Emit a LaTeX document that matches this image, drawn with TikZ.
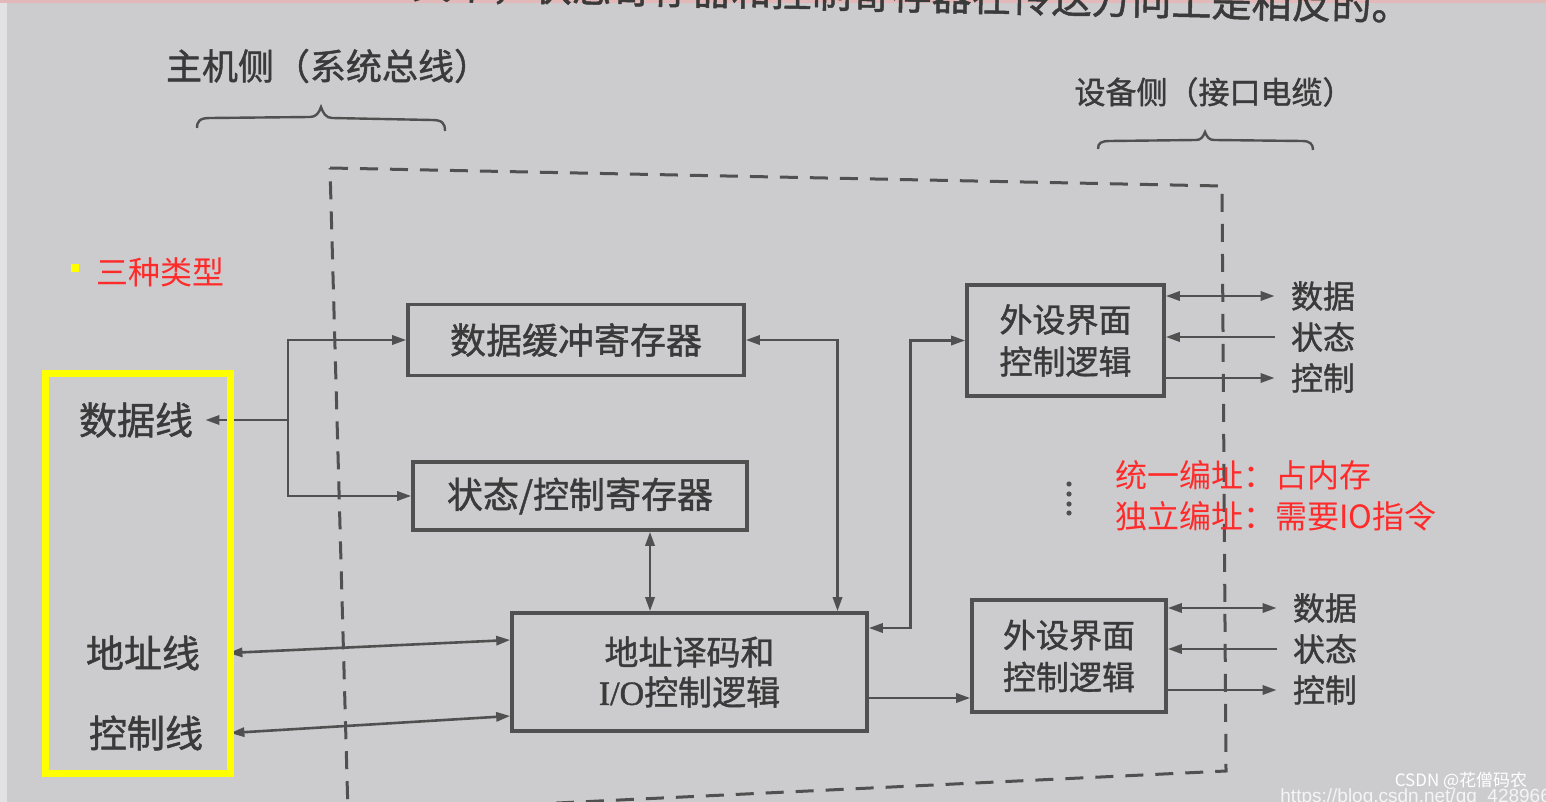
\documentclass[tikz,border=0pt]{standalone}
\usepackage{fontspec}
\setmainfont{Liberation Serif}
\newfontfamily\cjk{Noto Sans CJK SC}
\newfontfamily\cjkp{Noto Sans CJK SC}[FakeBold=1.2]
\newfontfamily\lser{Liberation Serif}[FakeBold=1.2]
\newfontfamily\lsans{Liberation Sans}
\usetikzlibrary{arrows.meta}
\definecolor{bg}{RGB}{204,204,206}
\definecolor{ink}{RGB}{58,58,58}
\definecolor{lnc}{RGB}{80,80,80}
\definecolor{redt}{RGB}{255,42,42}
\definecolor{yel}{RGB}{255,255,0}
\definecolor{pinkband}{RGB}{226,184,184}
\definecolor{edge}{RGB}{226,226,229}
\begin{document}
\begin{tikzpicture}[x=0.5pt,y=-0.5pt,
  >={Triangle[length=7pt,width=4.6pt]},
  ln/.style={draw=lnc,line width=1.3pt},
  box/.style={draw=lnc,line width=1.8pt,inner sep=0pt,text=ink,align=center},
  lab/.style={font=\cjkp\fontsize{19}{22}\selectfont,text=ink},
  side/.style={font=\cjkp\fontsize{16}{19}\selectfont,text=ink,inner xsep=8pt},
  redtxt/.style={font=\cjk\fontsize{16}{19}\selectfont,text=redt,inner sep=0pt,anchor=west},
  brc/.style={draw=lnc,line width=1.2pt},
  dsh/.style={draw=lnc,line width=1.5pt,dash pattern=on 9pt off 6pt}]
\useasboundingbox (0,0) rectangle (1546,802);
\clip (0,0) rectangle (1546,802);
\fill[bg] (0,0) rectangle (1546,802);
\fill[edge] (0,0) rectangle (7,802);
\fill[pinkband] (0,0) rectangle (1546,3);

% cut-off line of text at the top
\node[font=\cjkp\fontsize{20}{22}\selectfont,text=ink,anchor=east,rotate=-1.3,inner sep=0pt] (toptxt) at (1412,6) {其中，状态寄存器和控制寄存器在传送方向上是相反的。};

% titles and braces
\node[font=\cjkp\fontsize{18}{21}\selectfont,text=ink] (host) at (328,66) {主机侧（系统总线）};
\node[font=\cjkp\fontsize{15.5}{18}\selectfont,text=ink] (dev) at (1214,92) {设备侧（接口电缆）};
\draw[brc] (197,128) .. controls (197,121) and (200,118) .. (210,118) -- (310,117) .. controls (316,117) and (319,113) .. (321,107) .. controls (323,113) and (326,118) .. (332,118) -- (432,120) .. controls (442,120) and (445,123) .. (445,131);
\draw[brc] (1098,149) .. controls (1098,143) and (1101,141) .. (1110,141) -- (1196,140) .. controls (1201,140) and (1203,137) .. (1205,132) .. controls (1207,137) and (1209,140) .. (1214,140) -- (1302,141) .. controls (1310,141) and (1313,144) .. (1313,150);

% dashed interface frame
\draw[dsh] (330,168) -- (1222,186) -- (1226,771) -- (348,813) -- cycle;

% boxes
\node[box,minimum width=168pt,minimum height=35.5pt,font=\cjkp\fontsize{18}{21}\selectfont] (b1) at (576,340) {数据缓冲寄存器};
\node[box,minimum width=167pt,minimum height=34pt,font=\cjkp\fontsize{18}{21}\selectfont] (b2) at (580,496) {状态/控制寄存器};
\node[box,minimum width=177.5pt,minimum height=59pt,font=\cjkp\fontsize{17}{20}\selectfont] (b3) at (689.5,672) {地址译码和\\{\lser I/O}控制逻辑};
\node[box,minimum width=98.5pt,minimum height=55.5pt,font=\cjkp\fontsize{16.5}{21}\selectfont] (b4) at (1065.5,340.5) {外设界面\\控制逻辑};
\node[box,minimum width=97pt,minimum height=56pt,font=\cjkp\fontsize{16.5}{21}\selectfont] (b5) at (1069,656) {外设界面\\控制逻辑};

% host-side labels
\node[lab,inner xsep=6pt] (dl) at (136,420) {数据线};
\node[lab,inner xsep=14pt] (al) at (143,653) {地址线};
\node[lab,inner xsep=13.5pt] (cl) at (146,733) {控制线};

% device-side labels
\node[side] (d1) at (1323,296) {数据};
\node[side] (s1) at (1323,337) {状态};
\node[side] (k1) at (1323,378) {控制};
\node[side] (d2) at (1325,608) {数据};
\node[side] (s2) at (1325,649) {状态};
\node[side] (k2) at (1325,690) {控制};

% connectors
\coordinate (j1) at (288,420);
\draw[ln,->] (j1) -- (dl.east);
\draw[ln,->] (j1) |- (b1.west);
\draw[ln,->] (j1) |- (b2.west);
\draw[ln,<->] (b1.east) -| ([xshift=74pt]b3.north);
\draw[ln,<->] ([xshift=35pt]b2.south) -- ([xshift=35pt]b2.south |- b3.north);
\draw[ln,<->] (b4.west) -- ++(-27.5pt,0) |- ([yshift=22pt]b3.east);
\draw[ln,->] ([yshift=-13pt]b3.east) -- ([yshift=-13pt]b3.east -| b5.west);
\draw[ln,<->] (al.east) -- ([yshift=16pt]b3.west);
\draw[ln,<->] (cl.east) -- ([yshift=-22pt]b3.west);

\draw[ln,<->] (d1.west -| b4.east) -- (d1.west);
\draw[ln,->] (s1.west) -- (s1.west -| b4.east);
\draw[ln,->] (k1.west -| b4.east) -- (k1.west);
\draw[ln,<->] (d2.west -| b5.east) -- (d2.west);
\draw[ln,->] (s2.west) -- (s2.west -| b5.east);
\draw[ln,->] (k2.west -| b5.east) -- (k2.west);

% vertical ellipsis
\foreach \yy in {484,494,504,513} \fill[lnc] (1069,\yy) circle (1.3pt);

% annotations
\draw[yel,line width=3.5pt] (45.5,373) rectangle (230.5,773.5);
\fill[yel] (71,264) rectangle (79,272);
\node[redtxt] (types) at (96,272) {三种类型};
\node[redtxt] (unif) at (1115,475) {统一编址：占内存};
\node[redtxt] (indep) at (1115,516) {独立编址：需要IO指令};

% watermark
\node[font=\cjk\fontsize{8.5}{10}\selectfont,text=white,inner sep=0pt] (wm1) at (1461,781) {CSDN @花僧码农};
\node[font=\lsans\fontsize{9.5}{10}\selectfont,text=white,opacity=0.8,anchor=west,inner sep=0pt] (wm2) at (1280,798) {https://blog.csdn.net/qq\_42896653};
\end{tikzpicture}
\end{document}
